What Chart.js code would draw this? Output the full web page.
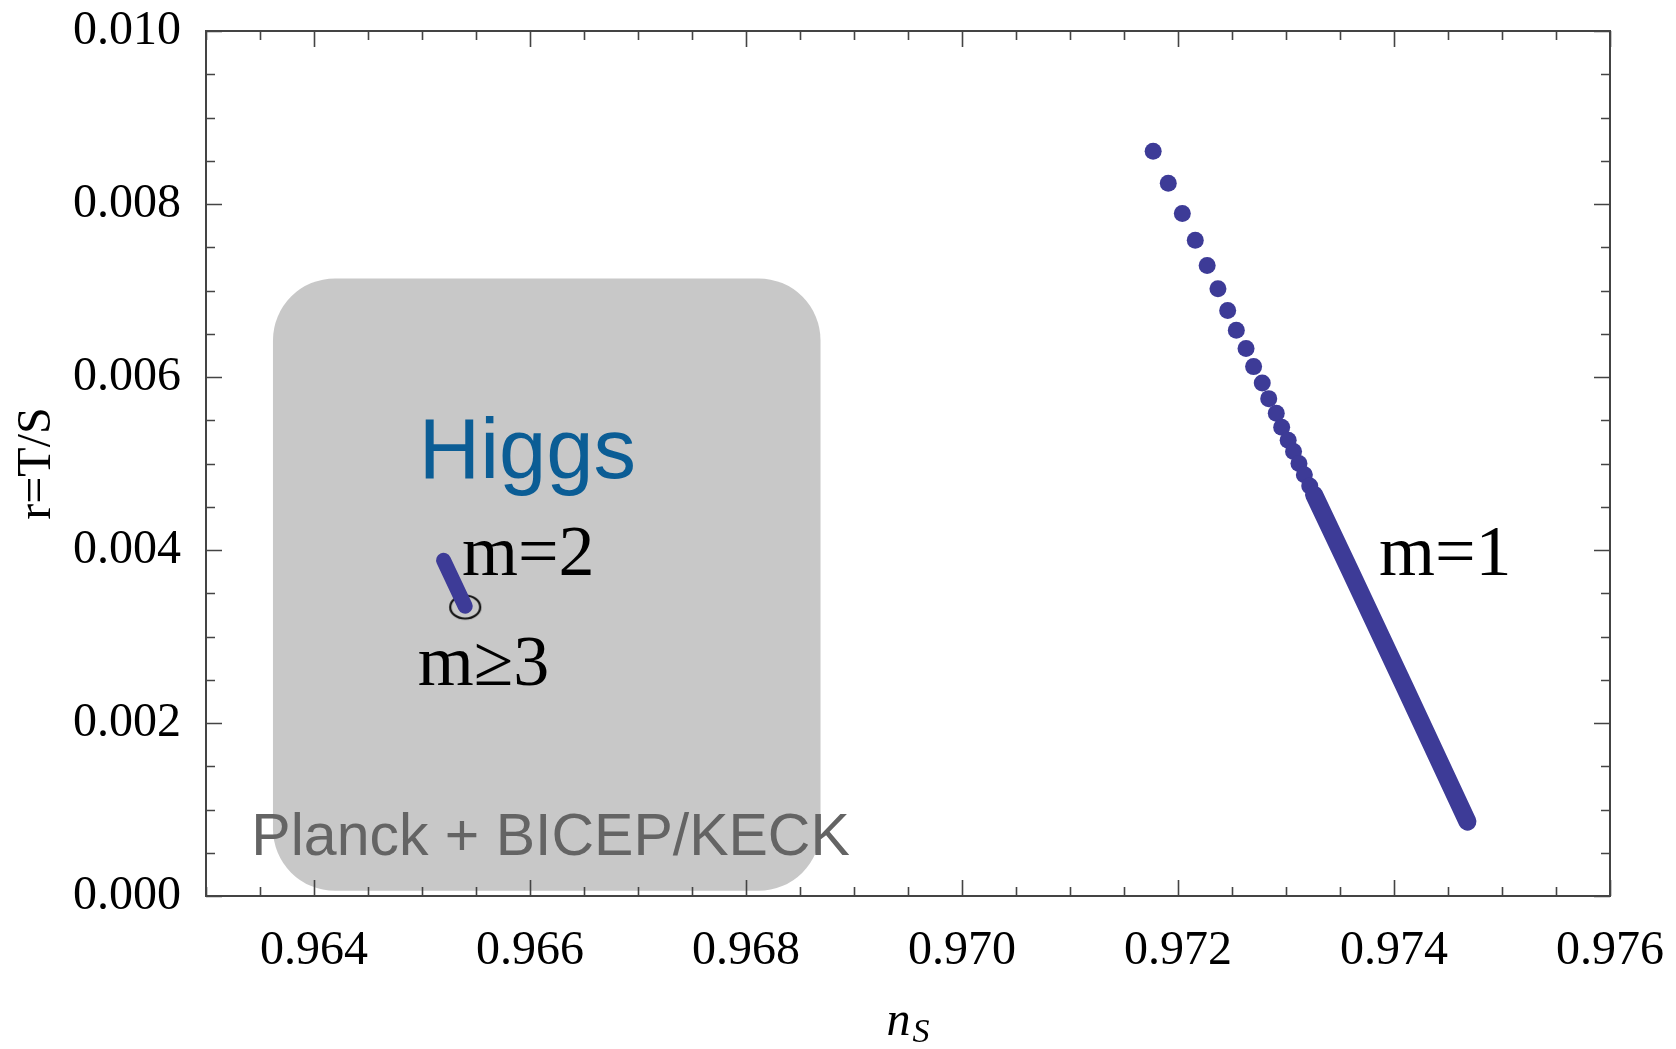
<!DOCTYPE html>
<html><head><meta charset="utf-8">
<script src="https://cdn.jsdelivr.net/npm/chart.js@4.4.0/dist/chart.umd.min.js"></script>
<style>html,body{margin:0;padding:0;background:#fff;overflow:hidden}</style>
</head><body>
<canvas id="c" width="1676" height="1049"></canvas>
<script>
// ---- data ----
const m1SparseNs = [0.97177,0.97191,0.97204,0.97216,0.97227,0.97237,0.97246,0.97254,0.97263,0.97270,0.97278,0.97284,0.97291,0.97296,0.97302,0.97307,0.97312,0.97317,0.97322,0.97326];
const m1SparseR  = [0.00861,0.00824,0.00789,0.00758,0.00729,0.00702,0.00677,0.00654,0.00633,0.00612,0.00593,0.00575,0.00558,0.00542,0.00527,0.00514,0.00500,0.00487,0.00474,0.00464];
const m1DenseNs = [0.97326,0.97359,0.97409,0.97468];
const m1DenseR  = [0.00464,0.00377,0.00244,0.00086];
const m2Ns = [0.96520,0.96540];
const m2R  = [0.00388,0.00335];
const m3Ns = [0.96540];
const m3R  = [0.00334];
const planckRegionNs = [0.96362,0.96869];
const planckRegionR  = [0.00006,0.00714];
const xMajorTicks = [0.964,0.966,0.968,0.970,0.972,0.974,0.976];
const xTickLabels = ['0.964','0.966','0.968','0.970','0.972','0.974','0.976'];
const yMajorTicks = [0,0.002,0.004,0.006,0.008,0.010];
const yTickLabels = ['0.000','0.002','0.004','0.006','0.008','0.010'];
const yTitle = 'r=T/S';
const xTitleMain = 'n', xTitleSub = 'S';
const labelHiggs = 'Higgs', labelM2 = 'm=2', labelM3 = 'm≥3', labelM1 = 'm=1', labelPlanck = 'Planck + BICEP/KECK';

const toPts = (xs, ys) => xs.map((x, i) => ({x, y: ys[i]}));
const dotColor = 'rgb(61,59,151)';
const serif = '"Liberation Serif", "Times New Roman", serif';
const sans = '"Liberation Sans", Arial, Helvetica, sans-serif';

// ellipse marker for m>=3
const ell = document.createElement('canvas');
ell.width = 36; ell.height = 30;
(function(){ const g = ell.getContext('2d'); g.strokeStyle = '#111'; g.lineWidth = 2.2;
  g.beginPath(); g.ellipse(18, 15, 15, 11.5, 0, 0, Math.PI*2); g.stroke(); })();

function minorTicks(min, max, step) {
  const out = []; const n = Math.round((max - min) / step);
  for (let i = 0; i <= n; i++) out.push({value: +(min + i*step).toFixed(6)});
  return out;
}
function labelFor(v, majors, labels) {
  const i = majors.findIndex(m => Math.abs(m - v) < 1e-7);
  return i >= 0 ? labels[i] : '';
}

const regionPlugin = {
  id: 'region',
  beforeDatasetsDraw(chart) {
    const {ctx, scales: {x, y}} = chart;
    const x0 = x.getPixelForValue(planckRegionNs[0]), x1 = x.getPixelForValue(planckRegionNs[1]);
    const y0 = y.getPixelForValue(planckRegionR[1]), y1 = y.getPixelForValue(planckRegionR[0]);
    ctx.save(); ctx.fillStyle = '#c8c8c8';
    ctx.beginPath(); ctx.roundRect(x0, y0, x1 - x0, y1 - y0, 62); ctx.fill(); ctx.restore();
  }
};

const textPlugin = {
  id: 'texts',
  afterDatasetsDraw(chart, args, opts) {
    const {ctx, scales: {x, y}} = chart;
    ctx.save(); ctx.textAlign = 'left'; ctx.textBaseline = 'alphabetic';
    opts.items.forEach(it => {
      ctx.font = it.font; ctx.fillStyle = it.color;
      ctx.fillText(it.text, x.getPixelForValue(it.x), y.getPixelForValue(it.y));
    });
    ctx.restore();
  }
};

const framePlugin = {
  id: 'frame',
  afterDraw(chart) {
    const {ctx, chartArea: {left, right, top, bottom}, scales: {x, y}} = chart;
    ctx.save();
    ctx.strokeStyle = '#444'; ctx.lineWidth = 1.6;
    x.ticks.forEach(t => {
      const p = Math.round(x.getPixelForValue(t.value)) + 0.5;
      const len = labelFor(t.value, xMajorTicks, xTickLabels) ? 16 : 9;
      ctx.beginPath(); ctx.moveTo(p, bottom); ctx.lineTo(p, bottom - len);
      ctx.moveTo(p, top); ctx.lineTo(p, top + len); ctx.stroke();
    });
    y.ticks.forEach(t => {
      const p = Math.round(y.getPixelForValue(t.value)) + 0.5;
      const len = labelFor(t.value, yMajorTicks, yTickLabels) ? 16 : 9;
      ctx.beginPath(); ctx.moveTo(left, p); ctx.lineTo(left + len, p);
      ctx.moveTo(right, p); ctx.lineTo(right - len, p); ctx.stroke();
    });
    ctx.lineWidth = 2; ctx.strokeStyle = '#444';
    ctx.strokeRect(left, top, right - left, bottom - top);
    // x axis title n_S
    ctx.fillStyle = '#000'; ctx.textBaseline = 'alphabetic'; ctx.textAlign = 'left';
    ctx.font = 'italic 48px ' + serif; const wn = ctx.measureText(xTitleMain).width;
    ctx.font = 'italic 34px ' + serif; const ws = ctx.measureText(xTitleSub).width;
    const cx = (left + right) / 2; const sx = cx - (wn + ws + 2) / 2;
    ctx.font = 'italic 48px ' + serif; ctx.fillText(xTitleMain, sx, chart.height - 14);
    ctx.font = 'italic 34px ' + serif; ctx.fillText(xTitleSub, sx + wn + 2, chart.height - 7);
    ctx.restore();
  }
};

new Chart(document.getElementById('c'), {
  type: 'scatter',
  data: {
    datasets: [
      {data: toPts(m2Ns, m2R), showLine: true, borderColor: dotColor, borderWidth: 15, borderCapStyle: 'round', pointRadius: 0},
      {data: toPts(m3Ns, m3R), pointStyle: ell, pointRadius: 15},
      {data: toPts(m1DenseNs, m1DenseR), showLine: true, borderColor: dotColor, borderWidth: 18, borderCapStyle: 'round', borderJoinStyle: 'round', pointRadius: 0},
      {data: toPts(m1SparseNs, m1SparseR), showLine: false, backgroundColor: dotColor, borderWidth: 0, pointRadius: 8.5}
    ]
  },
  options: {
    responsive: false, devicePixelRatio: 1, animation: false,
    layout: {padding: {left: 0, top: 31, right: 66, bottom: 0}},
    plugins: {
      legend: {display: false}, tooltip: {enabled: false},
      texts: {items: [
        {text: labelHiggs, x: 0.96497, y: 0.00483, font: '85px ' + sans, color: '#0b5d95'},
        {text: labelM2, x: 0.96537, y: 0.00371, font: '72px ' + serif, color: '#000'},
        {text: labelM3, x: 0.96496, y: 0.00244, font: '72px ' + serif, color: '#000'},
        {text: labelM1, x: 0.97386, y: 0.00371, font: '72px ' + serif, color: '#000'},
        {text: labelPlanck, x: 0.96342, y: 0.00047, font: '59px ' + sans, color: '#646464'}
      ]}
    },
    scales: {
      x: {
        type: 'linear', min: 0.963, max: 0.976,
        grid: {display: false}, border: {display: false},
        afterBuildTicks: s => { s.ticks = minorTicks(0.963, 0.976, 0.0005); },
        ticks: {autoSkip: false, maxRotation: 0, padding: 19, color: '#000', font: {family: serif, size: 48},
          callback: v => labelFor(v, xMajorTicks, xTickLabels)},
        afterFit: s => { s.height = 153; s.paddingLeft = 0; s.paddingRight = 0; }
      },
      y: {
        type: 'linear', min: 0, max: 0.010,
        grid: {display: false}, border: {display: false},
        afterBuildTicks: s => { s.ticks = minorTicks(0, 0.010, 0.0005); },
        ticks: {autoSkip: false, padding: 17, color: '#000', font: {family: serif, size: 48},
          callback: v => labelFor(v, yMajorTicks, yTickLabels)},
        title: {display: true, text: yTitle, color: '#000', font: {family: serif, size: 48}, padding: {top: 9, bottom: 0}},
        afterFit: s => { s.width = 206; s.paddingTop = 0; s.paddingBottom = 0; }
      }
    }
  },
  plugins: [regionPlugin, textPlugin, framePlugin]
});
</script>
</body></html>
